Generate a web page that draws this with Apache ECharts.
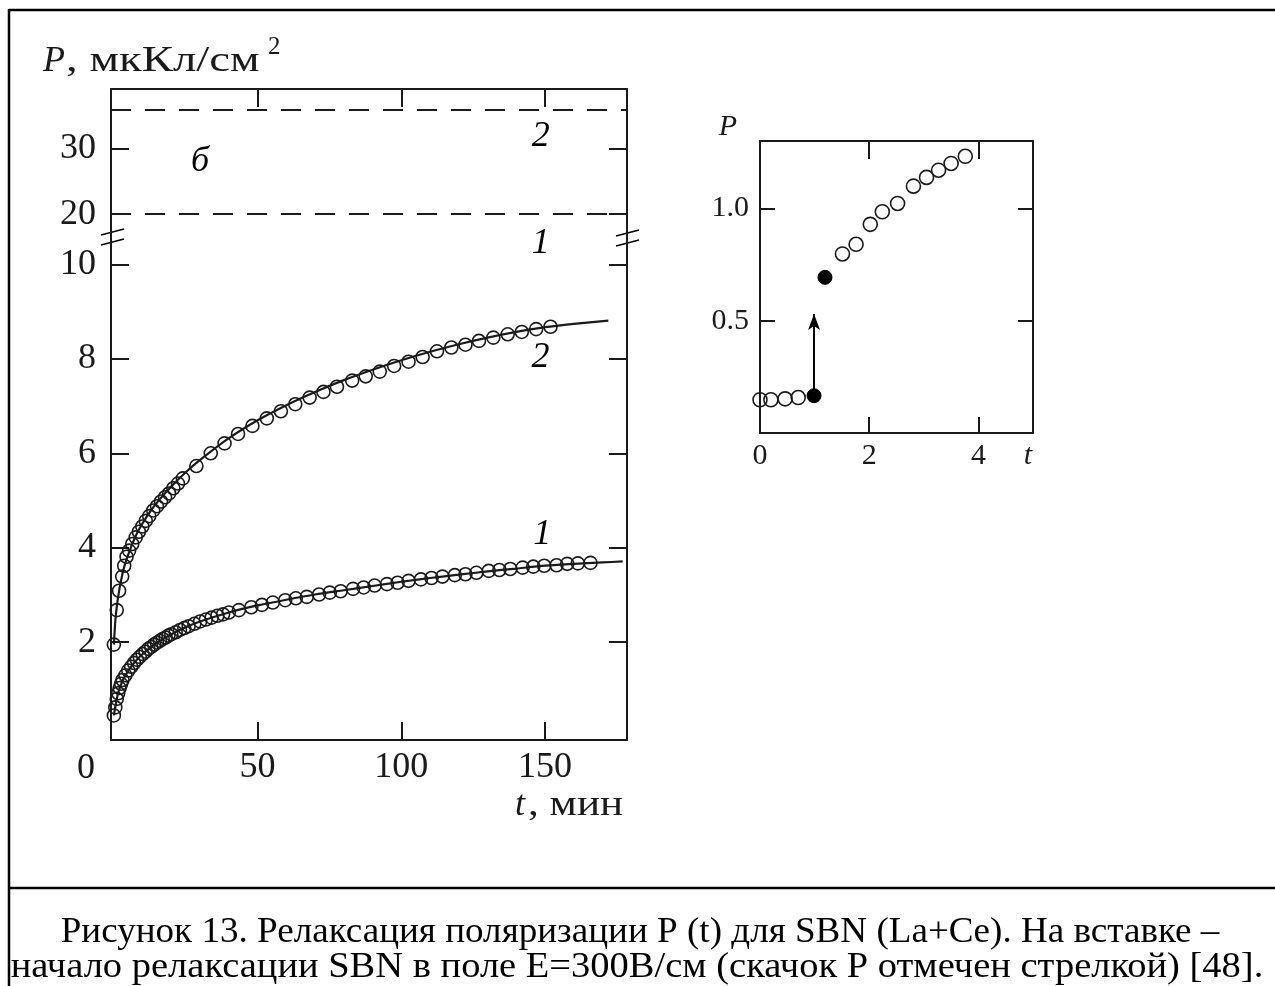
<!DOCTYPE html>
<html>
<head>
<meta charset="utf-8">
<script src="https://cdn.jsdelivr.net/npm/echarts@6/dist/echarts.min.js"></script>
<style>
  html, body { margin: 0; padding: 0; background: #fff; }
  #chart { width: 1275px; height: 986px; }
</style>
</head>
<body>
<div id="chart"></div>
<script>
// ---- Curve 2: measured polarization (open circles) and fitted line ----
const curve2T = [0, 1.0, 1.8, 2.9, 3.6, 4.4, 5.3, 6.4, 7.6, 8.7, 9.9, 11.1, 12.3, 13.7, 15.0, 16.4, 17.8, 19.2, 20.7, 22.3, 24.0, 28.7, 33.7, 38.5, 43.2, 48.2, 53.2, 58.1, 63.1, 68.1, 72.9, 77.6, 82.9, 87.6, 92.5, 97.5, 102.5, 107.4, 112.4, 117.4, 122.3, 127.0, 132.0, 137.0, 141.9, 146.9, 151.9];
const curve2P = [1.95, 2.68, 3.09, 3.39, 3.62, 3.81, 3.94, 4.08, 4.22, 4.34, 4.45, 4.57, 4.67, 4.79, 4.88, 4.98, 5.07, 5.15, 5.26, 5.36, 5.47, 5.73, 6.00, 6.21, 6.41, 6.58, 6.74, 6.89, 7.04, 7.18, 7.30, 7.41, 7.54, 7.63, 7.73, 7.85, 7.94, 8.04, 8.16, 8.24, 8.30, 8.38, 8.45, 8.52, 8.57, 8.63, 8.68];
const fit2T = [0, 0.5, 1, 2, 3, 4, 6, 8, 10, 13, 16, 20, 25, 30, 40, 50, 60, 70, 80, 90, 100, 110, 120, 130, 140, 150, 160, 172];
const fit2P = [1.95, 2.45, 2.75, 3.15, 3.45, 3.68, 4.02, 4.30, 4.52, 4.80, 5.03, 5.30, 5.60, 5.86, 6.32, 6.70, 7.02, 7.30, 7.55, 7.77, 7.97, 8.15, 8.31, 8.45, 8.57, 8.67, 8.74, 8.81];

// ---- Curve 1: measured polarization (open circles) and fitted line ----
const curve1T = [0, 0.5, 1, 1.5, 2, 2.5, 3, 4, 5, 6, 7, 8, 9, 10, 11, 12, 13, 14, 15, 16, 17, 18, 19, 20, 21.5, 23, 24.5, 26, 28, 30, 32, 34, 36, 38, 40, 43.5, 47.8, 51.5, 55.3, 59.6, 63.3, 67.1, 71.4, 75.1, 78.9, 83.2, 86.9, 90.7, 95.0, 98.7, 102.5, 106.8, 110.5, 114.3, 118.6, 122.3, 126.1, 130.4, 134.1, 137.9, 142.2, 145.9, 149.7, 154.0, 157.7, 161.4, 165.8];
const curve1P = [0.45, 0.62, 0.80, 0.92, 1.03, 1.12, 1.20, 1.30, 1.40, 1.48, 1.56, 1.63, 1.69, 1.75, 1.80, 1.86, 1.90, 1.95, 1.99, 2.03, 2.07, 2.10, 2.14, 2.17, 2.21, 2.26, 2.30, 2.34, 2.39, 2.44, 2.48, 2.52, 2.56, 2.59, 2.63, 2.68, 2.74, 2.79, 2.84, 2.89, 2.93, 2.96, 3.01, 3.05, 3.08, 3.13, 3.16, 3.20, 3.23, 3.26, 3.30, 3.33, 3.36, 3.39, 3.42, 3.44, 3.47, 3.51, 3.53, 3.55, 3.58, 3.60, 3.62, 3.63, 3.66, 3.67, 3.68];
const fit1T = [0, 1, 2, 4, 7, 10, 15, 20, 25, 30, 40, 50, 60, 70, 80, 90, 100, 110, 120, 130, 140, 150, 160, 170, 177];
const fit1P = [0.45, 0.80, 1.03, 1.30, 1.56, 1.75, 1.99, 2.17, 2.32, 2.44, 2.63, 2.78, 2.90, 3.01, 3.10, 3.19, 3.28, 3.36, 3.43, 3.50, 3.56, 3.62, 3.66, 3.69, 3.71];

// ---- Upper (broken-axis) panel: saturation levels ----
const levelValues = [36, 20];

// ---- Inset: start of relaxation in E = 300 V/cm ----
const insetOpenT = [0, 0.2, 0.46, 0.70, 1.51, 1.76, 2.02, 2.24, 2.52, 2.81, 3.05, 3.27, 3.50, 3.76];
const insetOpenP = [0.148, 0.148, 0.152, 0.158, 0.797, 0.840, 0.929, 0.985, 1.022, 1.099, 1.138, 1.170, 1.200, 1.232];
const insetFilledT = [0.99, 1.19];
const insetFilledP = [0.166, 0.693];
const jumpArrow = { t: 0.99, from: 0.19, to: 0.53 };

// ---- Tick values ----
const mainXTicks = [50, 100, 150];
const lowerYTicks = [2, 4, 6, 8, 10];
const upperYTicks = [20, 30];
const insetXTicks = [0, 2, 4];
const insetYTicks = [0.5, 1.0];

// ---- Curve labels [t, P, text] ----
const upperLabels = [[30, 28.0, 'б'], [148.5, 31.9, '2']];
const lowerLabels = [[148.5, 10.45, '1'], [148.4, 8.02, '2'], [149, 4.27, '1']];

const zip = (a, b) => a.map((v, i) => [v, b[i]]);

const SERIF = '"Liberation Serif", "DejaVu Serif", serif';
const INK = '#1a1a1a';

function valueAxis(opts) {
  const { grid, pos, min, max, ticks, labels, tickLen, fontSize, margin, fmt } = opts;
  return {
    type: 'value', gridIndex: grid, position: pos, min, max,
    splitLine: { show: false },
    axisLine: { show: true, onZero: false, lineStyle: { color: INK, width: 2 } },
    axisTick: { show: !!ticks, inside: true, length: tickLen, customValues: ticks || [],
                lineStyle: { color: INK, width: 2 } },
    axisLabel: labels ? { show: true, customValues: labels, color: INK, fontFamily: SERIF,
                          fontSize, margin, formatter: fmt || (v => String(v)) }
                      : { show: false }
  };
}

const xAxes = [
  valueAxis({ grid: 0, pos: 'top', min: -1, max: 178.5, ticks: mainXTicks, tickLen: 18 }),
  valueAxis({ grid: 1, pos: 'bottom', min: -1, max: 178.5, ticks: mainXTicks, labels: mainXTicks,
              tickLen: 18, fontSize: 36, margin: 10 }),
  valueAxis({ grid: 2, pos: 'bottom', min: 0, max: 5, ticks: [2, 4], labels: insetXTicks,
              tickLen: 16, fontSize: 30, margin: 8 }),
  valueAxis({ grid: 2, pos: 'top', min: 0, max: 5, ticks: [2, 4], tickLen: 18 })
];
const yAxes = [
  valueAxis({ grid: 0, pos: 'left', min: 16.5, max: 39.2, ticks: upperYTicks, labels: upperYTicks,
              tickLen: 18, fontSize: 36, margin: 15 }),
  valueAxis({ grid: 0, pos: 'right', min: 16.5, max: 39.2, ticks: upperYTicks, tickLen: 18 }),
  valueAxis({ grid: 1, pos: 'left', min: -0.07, max: 10.58, ticks: lowerYTicks, labels: lowerYTicks,
              tickLen: 18, fontSize: 36, margin: 15 }),
  valueAxis({ grid: 1, pos: 'right', min: -0.07, max: 10.58, ticks: lowerYTicks, tickLen: 18 }),
  valueAxis({ grid: 2, pos: 'left', min: 0, max: 1.3, ticks: insetYTicks, labels: insetYTicks,
              tickLen: 15, fontSize: 30, margin: 11, fmt: v => v.toFixed(1) }),
  valueAxis({ grid: 2, pos: 'right', min: 0, max: 1.3, ticks: insetYTicks, tickLen: 15 })
];

const openCircle = {
  type: 'scatter', symbol: 'circle', symbolSize: 13, silent: true, z: 3,
  itemStyle: { color: 'rgba(0,0,0,0)', borderColor: INK, borderWidth: 1.6, opacity: 1 }
};
const fitLine = {
  type: 'line', showSymbol: false, smooth: 0.25, silent: true, z: 4,
  lineStyle: { color: INK, width: 2.2 }
};
const labelOnly = (xi, yi, rows) => ({
  type: 'scatter', xAxisIndex: xi, yAxisIndex: yi, symbolSize: 0, silent: true,
  itemStyle: { opacity: 1 },
  data: rows.map(r => ({ value: [r[0], r[1]], name: r[2] })),
  label: { show: true, position: 'inside', formatter: p => p.name, color: '#000', opacity: 1,
           textBorderWidth: 0, fontFamily: SERIF, fontStyle: 'italic', fontSize: 36 }
});

const series = [
  // saturation levels in the upper panel
  { type: 'line', xAxisIndex: 0, yAxisIndex: 0, data: [], silent: true,
    markLine: { symbol: 'none', silent: true, label: { show: false },
                lineStyle: { color: INK, width: 2, type: [20, 14] },
                data: levelValues.map(v => ({ yAxis: v })) } },
  labelOnly(0, 0, upperLabels),
  // main relaxation curves
  Object.assign({}, fitLine, { xAxisIndex: 1, yAxisIndex: 2, data: zip(fit2T, fit2P) }),
  Object.assign({}, openCircle, { xAxisIndex: 1, yAxisIndex: 2, data: zip(curve2T, curve2P) }),
  Object.assign({}, fitLine, { xAxisIndex: 1, yAxisIndex: 2, data: zip(fit1T, fit1P) }),
  Object.assign({}, openCircle, { xAxisIndex: 1, yAxisIndex: 2, data: zip(curve1T, curve1P) }),
  labelOnly(1, 2, lowerLabels),
  // inset
  Object.assign({}, openCircle, { xAxisIndex: 2, yAxisIndex: 4, symbolSize: 14,
    data: zip(insetOpenT, insetOpenP) }),
  { type: 'scatter', xAxisIndex: 2, yAxisIndex: 4, symbol: 'circle', symbolSize: 14, silent: true,
    itemStyle: { color: '#000', borderColor: '#000', borderWidth: 1, opacity: 1 },
    data: zip(insetFilledT, insetFilledP),
    markLine: { silent: true, symbol: ['none', 'arrow'], symbolSize: [9, 16], label: { show: false },
                lineStyle: { color: '#000', width: 2, type: 'solid' },
                data: [[{ coord: [jumpArrow.t, jumpArrow.from] }, { coord: [jumpArrow.t, jumpArrow.to] }]] } }
];

// frame, axis titles, caption and axis-break marks
const txt = (x, y, text, size, extra, sx) => ({
  type: 'text', silent: true, x, y, scaleX: sx || 1,
  style: Object.assign({ x: 0, y: 0, text, fill: INK, font: `${size}px ${SERIF}`,
    textAlign: 'center', textVerticalAlign: 'middle', align: 'center', verticalAlign: 'middle' }, extra || {})
});
const seg = (x1, y1, x2, y2, w) => ({
  type: 'line', silent: true, shape: { x1, y1, x2, y2 }, style: { stroke: '#000', lineWidth: w || 2 }
});
const LEFT = { textAlign: 'left', align: 'left' };

const graphic = [
  seg(9, 10, 1275, 10, 2.5),
  seg(9, 9, 9, 986, 2.5),
  seg(9, 888, 1275, 888, 2.5),
  // axis break marks
  seg(101, 235, 124, 229, 1.6), seg(101, 245, 124, 239, 1.6),
  seg(616, 236, 639, 230, 1.6), seg(616, 246, 639, 240, 1.6),
  // y-axis title
  txt(43, 62, 'P', 36, Object.assign({ font: `italic 36px ${SERIF}` }, LEFT)),
  txt(66, 62, ', мкКл/см', 36, LEFT, 1.3),
  txt(268, 47, '2', 25, LEFT),
  // x-axis origin and title
  txt(86, 769, '0', 36),
  txt(515, 806, 't', 36, Object.assign({ font: `italic 36px ${SERIF}` }, LEFT)),
  txt(528, 806, ', мин', 36, LEFT, 1.2),
  // inset titles
  txt(728, 127, 'P', 30, { font: `italic 30px ${SERIF}` }),
  txt(1028, 456, 't', 30, { font: `italic 30px ${SERIF}` }),
  // caption
  txt(640, 933, 'Рисунок 13. Релаксация поляризации P (t) для SBN (La+Ce). На вставке –', 35, { fill: '#000' }, 1.06),
  txt(637, 968, 'начало релаксации SBN в поле E=300В/см (скачок P отмечен стрелкой) [48].', 35, { fill: '#000' }, 1.1)
];

const chart = echarts.init(document.getElementById('chart'), null, { renderer: 'canvas' });
chart.setOption({
  backgroundColor: '#fff',
  animation: false,
  grid: [
    { left: 111, top: 89, width: 516, height: 148 },
    { left: 111, top: 237, width: 516, height: 503 },
    { left: 760, top: 141, width: 273, height: 292 }
  ],
  xAxis: xAxes,
  yAxis: yAxes,
  series,
  graphic
});
</script>
</body>
</html>
